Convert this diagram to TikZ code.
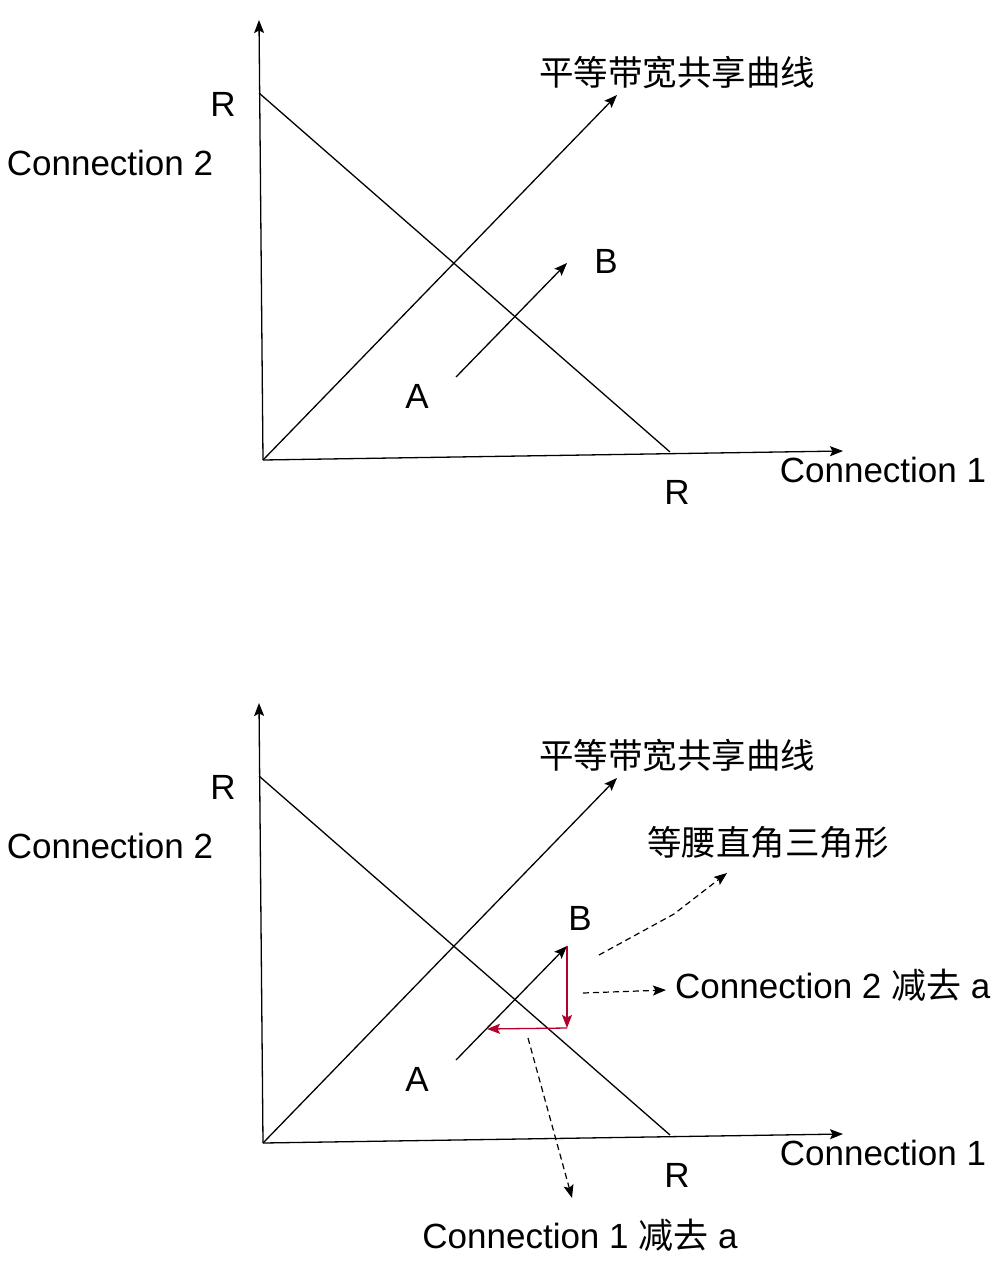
\documentclass[tikz,border=0pt]{standalone}
\usepackage{fontspec}
\setmainfont{Liberation Sans}
\newfontfamily\cjk{Noto Sans CJK SC}
\usetikzlibrary{arrows.meta}
\definecolor{redarrow}{HTML}{B3002D}
\begin{document}
\begin{tikzpicture}[x=1pt,y=-1pt,
  ax/.style={line width=1.3pt,-{Stealth[length=13pt,width=10pt,inset=2.5pt]}},
  ln/.style={line width=1.3pt},
  rd/.style={line width=1.3pt,draw=redarrow,-{Stealth[length=13pt,width=10pt,inset=2.5pt]}},
  dsh/.style={line width=1.2pt,dashed,dash pattern=on 6pt off 4pt,-{Stealth[length=13pt,width=10pt,inset=2.5pt]}},
  lbl/.style={inner sep=0pt,font=\fontsize{35}{40}\selectfont},
  clbl/.style={inner sep=0pt,font=\fontsize{34.5}{40}\selectfont\cjk}]
\useasboundingbox (0,0) rectangle (997,1265);
\foreach \dy/\p in {0/t,683/b}{
  \begin{scope}[yshift=-\dy pt]
  \coordinate (\p O) at (263,460);
  \coordinate (\p Y) at (259,20);
  \coordinate (\p X) at (843,451);
  \coordinate (\p R1) at (259,93);
  \coordinate (\p R2) at (670,452);
  \coordinate (\p D) at (617,95);
  \coordinate (\p A) at (456,377);
  \draw[ax] (\p O) -- (\p Y);
  \draw[ax] (\p O) -- (\p X);
  \draw[ln] (\p R1) -- (\p R2);
  \draw[ax] (\p O) -- (\p D);
  \node[lbl] (\p lR1) at (223,104) {R};
  \node[lbl] (\p lC2) at (110,163) {Connection 2};
  \node[clbl] (\p lcurve) at (677,72) {平等带宽共享曲线};
  \node[lbl] (\p lA) at (417,396) {A};
  \node[lbl] (\p lC1) at (883,470) {Connection 1};
  \node[lbl] (\p lR2) at (677,492) {R};
  \end{scope}
}
% top A->B
\coordinate (tB) at (567,263);
\draw[ax] (tA) -- (tB);
\node[lbl] (tlB) at (606,261) {B};
% bottom
\coordinate (bB) at (567,946);
\coordinate (bC) at (567,1028);
\coordinate (bD) at (487,1029);
\draw[ax] (bA) -- (bB);
\node[lbl] (blB) at (580,918) {B};
\draw[rd] (bB) -- (bC);
\draw[rd] (bC) -- (bD);
\node[clbl] (tri) at (768,842) {等腰直角三角形};
\node[lbl,anchor=west] (c2a) at (675,985) {Connection 2 {\cjk 减去} a};
\node[lbl] (c1a) at (580,1235) {Connection 1 {\cjk 减去} a};
\coordinate (s1) at (599,955);
\coordinate (m1) at (674,914);
\coordinate (e1) at (727,873);
\draw[dsh] (s1) -- (m1) -- (e1);
\coordinate (s2) at (583,993);
\coordinate (e2) at (666,990);
\draw[dsh] (s2) -- (e2);
\coordinate (s3) at (528,1038);
\coordinate (e3) at (572,1198);
\draw[dsh] (s3) -- (e3);
\end{tikzpicture}
\end{document}
